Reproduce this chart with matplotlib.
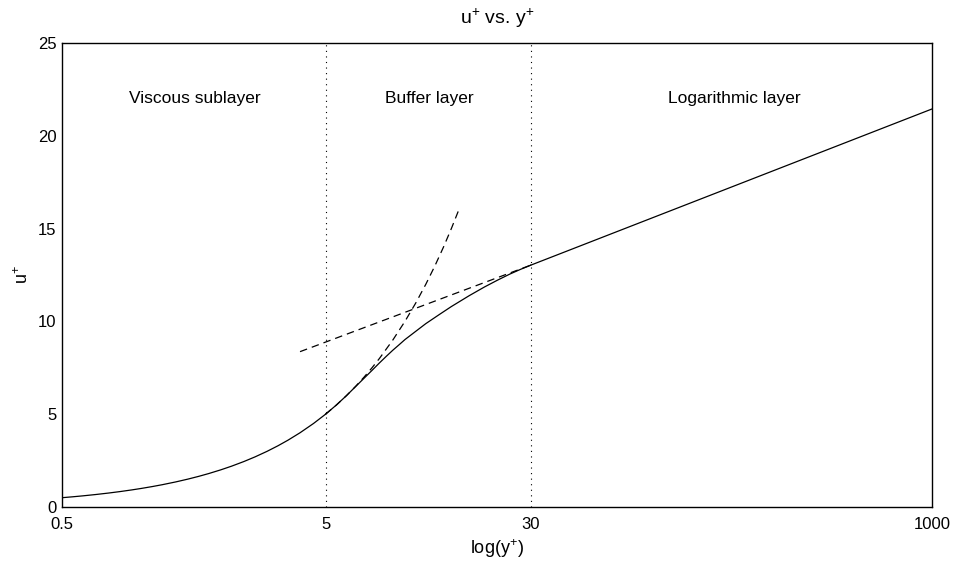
import numpy as np
import matplotlib.pyplot as plt

plt.rcParams['font.family'] = ['Liberation Sans', 'DejaVu Sans']
plt.rcParams['mathtext.fontset'] = 'custom'
plt.rcParams['mathtext.rm'] = 'Liberation Sans'
plt.rcParams['mathtext.it'] = 'Liberation Sans'

# viscous sublayer (solid), u+ = y+
visc_y = [0.5, 0.55, 0.6, 0.67, 0.75, 0.83, 0.92, 1.0, 1.1, 1.2, 1.35, 1.5, 1.65, 1.8,
          2.0, 2.2, 2.45, 2.7, 3.0, 3.3, 3.6, 4.0, 4.5, 5.0]
visc_u = [0.5, 0.55, 0.6, 0.67, 0.75, 0.83, 0.92, 1.0, 1.1, 1.2, 1.35, 1.5, 1.65, 1.8,
          2.0, 2.2, 2.45, 2.7, 3.0, 3.3, 3.6, 4.0, 4.5, 5.0]

# buffer layer (solid)
buf_y = [5, 5.5, 6, 6.5, 7, 7.5, 8, 8.5, 9, 9.5, 10, 11, 12, 13.5, 15, 17.5, 20, 22.5,
         25, 27.5, 30]
buf_u = [5.0, 5.5, 6.0, 6.49, 6.94, 7.36, 7.76, 8.12, 8.45, 8.74, 9.02, 9.47, 9.88,
         10.37, 10.8, 11.38, 11.85, 12.23, 12.55, 12.81, 13.03]

# log layer (solid)
log_y = [30, 1000]
log_u = [13.03, 21.45]

# dashed extensions
visc_ext_y = [5, 5.5, 6, 6.5, 7, 7.5, 8, 9, 10, 11, 12, 13, 14, 15, 16]
visc_ext_u = [5, 5.5, 6, 6.5, 7, 7.5, 8, 9, 10, 11, 12, 13, 14, 15, 16]
log_ext_y = [4, 30]
log_ext_u = [8.37, 13.03]

bounds = [5, 30]
labels = ['Viscous sublayer', 'Buffer layer', 'Logarithmic layer']
label_x = [0.9, 8.4, 100]

fig = plt.figure(figsize=(9.54, 5.63), dpi=100)
ax = fig.add_axes([0.065, 0.0995, 0.912, 0.824])

ax.plot(visc_y, visc_u, color='black', lw=0.9)
ax.plot(buf_y, buf_u, color='black', lw=0.9)
ax.plot(log_y, log_u, color='black', lw=0.9)
ax.plot(visc_ext_y, visc_ext_u, color='black', lw=0.9, dashes=(6, 4))
ax.plot(log_ext_y, log_ext_u, color='black', lw=0.9, dashes=(6, 4))

for b in bounds:
    ax.axvline(b, color='black', lw=0.8, ls=(0, (1, 4)))

for lx, lab in zip(label_x, labels):
    ax.text(lx, 22, lab, fontsize=12.5, ha='left', va='center')

ax.set_xscale('log')
ax.set_xlim(0.5, 1000)
ax.set_ylim(0, 25)
ax.set_xticks([0.5, 5, 30, 1000])
ax.set_xticklabels(['0.5', '5', '30', '1000'])
ax.xaxis.set_minor_locator(plt.NullLocator())
ax.set_yticks([0, 5, 10, 15, 20, 25])
ax.tick_params(direction='in', length=0, labelsize=12)
ax.tick_params(axis='x', pad=7)
ax.tick_params(axis='y', pad=4)

ax.set_title(r'u$^{+}$ vs. y$^{+}$', fontsize=14, pad=14)
ax.set_xlabel(r'log(y$^{+}$)', fontsize=13, labelpad=4)
ax.set_ylabel(r'u$^{+}$', fontsize=13)
for s in ax.spines.values():
    s.set_linewidth(1.0)

fig.savefig('out.png', dpi=100)
